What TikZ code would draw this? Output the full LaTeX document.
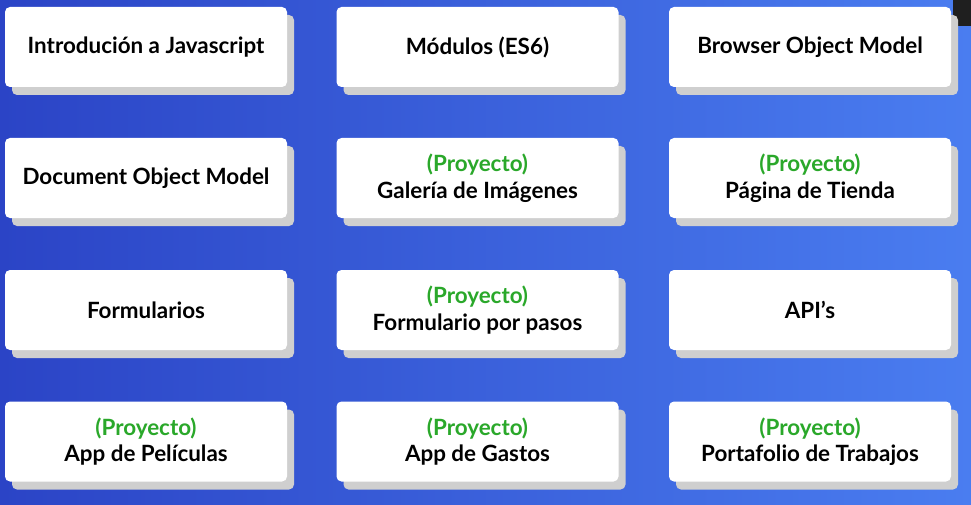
\documentclass[tikz,border=0pt]{standalone}
\usepackage{fontspec}
\setmainfont{Lato}
\usetikzlibrary{shadows}

\definecolor{bgleft}{HTML}{2B44C6}
\definecolor{bgright}{HTML}{4A7DF0}
\definecolor{shadowgray}{HTML}{CFCFCF}
\definecolor{projgreen}{HTML}{2AA82A}

\tikzset{
    card/.style = {draw = none, fill = white, rounded corners = 5pt,
        minimum width = 282pt, minimum height = 80pt, inner sep = 0pt,
        align = center, font = \fontsize{22.4}{26.5}\selectfont\bfseries,
        drop shadow = {shadow xshift = 7pt, shadow yshift = -8pt,
            fill = shadowgray, opacity = 1}},
}
\newcommand{\proj}{{\color{projgreen}(Proyecto)}}

\begin{document}
\begin{tikzpicture}[x = 1pt, y = 1pt]
    \shade[left color = bgleft, right color = bgright] (0, 0) rectangle (971, -505);
    \useasboundingbox (0, 0) rectangle (971, -505);
    \fill[black!88] (953, 0) rectangle (971, -26);

    \node[card] (intro javascript) at (146, -47) {Introdución a Javascript};
    \node[card] (modulos) at (477.5, -47) {Módulos (ES6)};
    \node[card] (browser model) at (810, -47) {Browser Object Model};

    \node[card] (document model) at (146, -178) {Document Object Model};
    \node[card] (galeria) at (477.5, -178) {\proj \\ Galería de Imágenes};
    \node[card] (tienda) at (810, -178) {\proj \\ Página de Tienda};

    \node[card] (formularios) at (146, -310) {Formularios};
    \node[card] (formulario pasos) at (477.5, -310) {\proj \\ Formulario por pasos};
    \node[card] (apis) at (810, -310) {API’s};

    \node[card] (peliculas) at (146, -441.5) {\proj \\ App de Películas};
    \node[card] (gastos) at (477.5, -441.5) {\proj \\ App de Gastos};
    \node[card] (portafolio) at (810, -441.5) {\proj \\ Portafolio de Trabajos};
  \end{tikzpicture}
\end{document}
